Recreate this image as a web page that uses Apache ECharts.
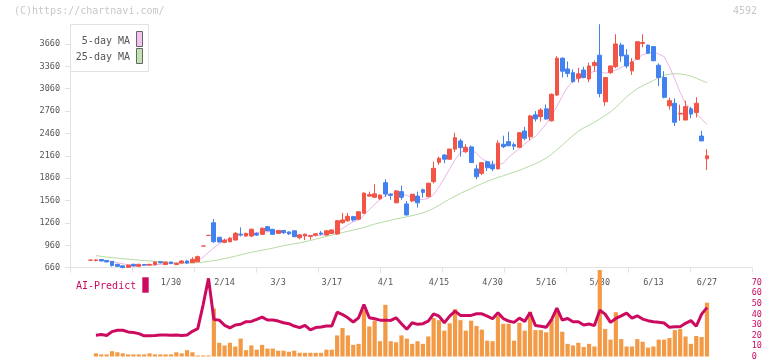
<!DOCTYPE html>
<html><head><meta charset="utf-8">
<script src="https://cdn.jsdelivr.net/npm/echarts@6/dist/echarts.min.js"></script>
<style>html,body{margin:0;padding:0;background:#fff}#c{width:772px;height:361px}</style>
</head><body><div id="c"></div>
<script>
// ---- data ----
const dates = ['1/8','1/9','1/10','1/14','1/15','1/16','1/17','1/20','1/21','1/22','1/23','1/24','1/27','1/28','1/29','1/30','1/31','2/3','2/4','2/5','2/6','2/7','2/10','2/12','2/13','2/14','2/17','2/18','2/19','2/20','2/21','2/25','2/26','2/27','2/28','3/3','3/4','3/5','3/6','3/7','3/10','3/11','3/12','3/13','3/14','3/17','3/18','3/19','3/21','3/24','3/25','3/26','3/27','3/28','3/31','4/1','4/2','4/3','4/4','4/7','4/8','4/9','4/10','4/11','4/14','4/15','4/16','4/17','4/18','4/21','4/22','4/23','4/24','4/25','4/28','4/30','5/1','5/2','5/7','5/8','5/9','5/12','5/13','5/14','5/15','5/16','5/19','5/20','5/21','5/22','5/23','5/26','5/27','5/28','5/29','5/30','6/2','6/3','6/4','6/5','6/6','6/9','6/10','6/11','6/12','6/13','6/16','6/17','6/18','6/19','6/20','6/23','6/24','6/25','6/26','6/27'];
const opens = [760,758,770,757,745,705,685,665,705,678,703,695,698,740,702,735,702,722,750,728,740,950,1093,1263,1068,1000,1008,1031,1110,1085,1085,1118,1107,1210,1175,1120,1160,1140,1155,1062,1085,1080,1095,1125,1098,1120,1112,1263,1290,1345,1310,1390,1620,1605,1585,1800,1645,1530,1680,1515,1555,1620,1705,1612,1813,2073,2170,2115,2250,2360,2215,2280,1985,1925,2080,2040,1985,2315,2350,2310,2275,2493,2415,2710,2685,2790,2630,2975,3470,3325,3275,3200,3310,3190,3370,3510,2885,3275,3355,3645,3510,3300,3455,3665,3645,3625,3375,3210,2830,2865,2720,2640,2790,2740,2425,2120];
const closes = [762,762,750,738,690,678,662,695,682,705,695,705,735,725,735,715,718,750,722,773,808,951,1094,1008,1005,1030,1054,1121,1100,1120,1175,1098,1188,1156,1107,1160,1130,1115,1076,1098,1110,1090,1115,1110,1155,1166,1290,1300,1350,1300,1410,1660,1640,1650,1635,1648,1630,1690,1604,1368,1645,1530,1670,1792,1993,2127,2115,2250,2403,2270,2275,2070,1880,2068,2000,1985,2330,2283,2295,2290,2470,2395,2695,2655,2775,2655,2985,3470,3295,3265,3155,3260,3210,3365,3410,2995,3210,3365,3660,3500,3365,3420,3690,3680,3535,3435,3210,2945,2900,2610,2730,2820,2720,2865,2360,2160];
const lows = [756,745,745,732,675,668,652,660,675,672,688,690,692,718,698,708,695,715,712,725,740,950,1093,995,998,988,1000,1025,1078,1075,1070,1085,1100,1150,1100,1112,1110,1098,1070,1040,1030,1035,1080,1095,1090,1115,1100,1250,1275,1280,1300,1380,1610,1600,1570,1610,1570,1525,1570,1360,1540,1465,1600,1605,1790,2040,2060,2110,2210,2150,2200,2065,1845,1900,1955,1955,1980,2265,2290,2240,2270,2370,2370,2620,2620,2640,2620,2960,3210,3215,3140,3145,3200,3150,3290,2945,2830,3260,3335,3420,3335,3245,3450,3615,3530,3430,3095,2930,2780,2560,2630,2640,2665,2675,2360,1970];
const highs = [766,775,775,760,748,712,690,702,715,715,708,712,748,745,742,740,728,760,765,800,822,951,1094,1313,1070,1050,1070,1140,1200,1130,1185,1135,1200,1212,1180,1165,1165,1145,1160,1110,1115,1100,1125,1150,1160,1172,1300,1395,1395,1355,1420,1670,1680,1780,1640,1845,1660,1700,1760,1555,1650,1680,1720,1800,2080,2150,2185,2255,2470,2390,2315,2300,2040,2075,2095,2095,2370,2430,2485,2340,2480,2550,2710,2760,2800,2850,2995,3495,3480,3425,3320,3340,3355,3410,3440,3925,3215,3370,3790,3675,3590,3470,3700,3790,3650,3630,3400,3295,2940,2930,2845,2900,2815,2945,2495,2250];
const ma5 = [null,765,760,752,740,726,712,700,693,690,690,692,698,705,712,718,722,728,732,740,755,800,865,928,980,1025,1055,1075,1095,1110,1125,1132,1138,1142,1145,1140,1135,1128,1118,1105,1092,1088,1090,1097,1108,1122,1150,1185,1235,1275,1300,1365,1440,1510,1575,1625,1650,1662,1650,1630,1600,1578,1575,1590,1640,1745,1860,1985,2110,2200,2245,2245,2195,2120,2080,2055,2040,2060,2140,2200,2255,2320,2375,2420,2500,2590,2700,2820,2960,3080,3160,3200,3240,3265,3295,3290,3268,3285,3310,3345,3378,3420,3465,3515,3540,3550,3525,3490,3355,3190,3010,2860,2790,2730,2650,2585];
const ma25 = [null,822,812,803,795,788,781,775,769,762,756,750,745,740,735,731,727,724,722,723,727,735,745,755,767,782,798,815,832,850,866,881,895,908,922,940,955,968,980,993,1008,1025,1043,1062,1080,1098,1115,1132,1148,1165,1182,1200,1222,1245,1262,1280,1297,1313,1328,1343,1358,1375,1395,1422,1455,1495,1540,1580,1620,1655,1690,1722,1755,1787,1818,1845,1870,1893,1916,1940,1966,1995,2025,2055,2090,2130,2180,2240,2305,2370,2430,2490,2535,2570,2610,2655,2700,2750,2810,2880,2950,3010,3060,3100,3135,3170,3205,3240,3255,3260,3258,3248,3228,3200,3170,3140];
const volume = [null,3,2,2,5,4,3,2,2,2,2,3,2,2,2,2,4,3,6,4,1,1,1,45.5,13,10.5,13,9.5,17,6,10.5,6.5,11,7.5,7.5,5.5,5.5,4.5,5.5,3.5,3.5,3.5,3.5,3.5,6.5,6.5,20,27,20,11,12,44,28.5,34,14.5,49,14.5,13.5,20,17,12,14.5,12,19,36.5,34.5,24.5,31.5,45,34.5,24.5,34,29,25.5,15,14.5,38.5,31,31,15,32,24.5,42.5,25,25,23,35,45.5,23.5,12,10.5,13,9,12,9.5,82,26,16,42,16.5,9.5,9.5,16.5,14,8.5,9.5,16,16,17.5,25,26,19,12,19.5,18.5,51];
const aiPredict = [null,20.2,20.8,19.9,23.6,24.9,24.9,23.3,22.7,21.7,19.6,19.6,19.9,20.5,20.5,20.2,20.5,19.9,20.5,23.9,26.4,49.1,74.1,35.2,34.5,29.6,27.1,29.9,30.6,33.0,33.3,35.2,37.4,34.6,34.6,33.6,32.0,31.1,28.9,27.4,29.6,25.2,27.4,28.0,28.9,28.9,42.0,39.8,36.7,32.7,36.7,49.2,36.7,35.8,34.5,34.5,34.2,36.7,31.1,25.8,32.0,30.5,31.1,33.6,40.5,38.3,32.0,38.3,43.0,39.0,39.0,39.0,40.5,40.5,38.3,35.8,41.4,36.0,33.6,32.4,36.4,33.3,41.7,29.3,28.7,27.7,34.9,45.8,34.6,36.1,33.0,33.0,29.9,30.8,29.3,43.9,40.2,32.4,36.1,38.6,41.1,36.4,38.6,35.5,34.0,33.0,32.4,31.8,27.7,28.3,28.3,31.5,34.0,28.7,40.2,46.4];
const priceAxis = {min: 660, max: 3660, step: 300, plotMax: 3960};
const aiAxis = {min: 0, max: 70, step: 10};
const firstLabelIndex = 15, labelEvery = 10;
const legendNames = ['5-day MA', '25-day MA'];

// ---- chart ----
const FONT = 'DejaVu Sans Mono';
const RED = '#f25545', BLUE = '#4281f0', MAG = '#cc0a60', ORANGE = '#f29a46';
const AX = '#e2e2e2';
const candle = opens.map((o, i) => [o, closes[i], lows[i], highs[i]]);
const plotL = 87.9, plotW = 116 * 5.36;

const chart = echarts.init(document.getElementById('c'), null, {renderer: 'canvas'});
chart.setOption({
  animation: false,
  backgroundColor: '#fff',
  grid: [
    {left: 70, top: 44, width: 682, height: 223.7},
    {left: plotL, top: 21.6, width: plotW, height: 246.1},
    {left: plotL, top: 282.7, width: plotW, height: 75}
  ],
  xAxis: [
    {type: 'value', gridIndex: 0, min: 0, max: 11, interval: 1,
      axisLine: {show: true, lineStyle: {color: AX}}, axisTick: {show: true, length: 5, lineStyle: {color: AX}},
      axisLabel: {show: false}, splitLine: {show: false}},
    {type: 'category', gridIndex: 1, data: dates, boundaryGap: true,
      axisLine: {show: false}, axisTick: {show: false}, splitLine: {show: false},
      axisLabel: {interval: (i) => i >= firstLabelIndex && (i - firstLabelIndex) % labelEvery === 0,
        color: '#555', fontFamily: FONT, fontSize: 8.5, margin: 11}},
    {type: 'category', gridIndex: 2, data: dates, boundaryGap: true, show: false}
  ],
  yAxis: [
    {type: 'value', gridIndex: 0, min: priceAxis.min, max: priceAxis.max, interval: priceAxis.step,
      axisLine: {show: true, lineStyle: {color: AX}}, axisTick: {show: true, length: 5, lineStyle: {color: AX}},
      axisLabel: {color: '#555', fontFamily: FONT, fontSize: 8.5, margin: 10, formatter: (v) => String(v)}, splitLine: {show: false}},
    {type: 'value', gridIndex: 1, min: priceAxis.min, max: priceAxis.plotMax, show: false, splitLine: {show: false}},
    {type: 'value', gridIndex: 2, min: aiAxis.min, max: aiAxis.max, interval: aiAxis.step, position: 'right', offset: 40,
      axisLine: {show: false}, axisTick: {show: false}, splitLine: {show: false},
      axisLabel: {color: MAG, fontFamily: FONT, fontSize: 8.5, margin: 2, formatter: (v) => String(v)}}
  ],
  series: [
    {name: legendNames[1], type: 'line', xAxisIndex: 1, yAxisIndex: 1, data: ma25, symbol: 'none',
      lineStyle: {color: '#b5dca5', width: 1}, z: 2},
    {name: legendNames[0], type: 'line', xAxisIndex: 1, yAxisIndex: 1, data: ma5, symbol: 'none',
      lineStyle: {color: '#ebb5eb', width: 1}, z: 2},
    {type: 'candlestick', xAxisIndex: 1, yAxisIndex: 1, data: candle, barWidth: 4.3,
      itemStyle: {color: RED, color0: BLUE, borderColor: RED, borderColor0: BLUE, borderWidth: 1}, z: 3},
    {type: 'bar', xAxisIndex: 2, yAxisIndex: 2, data: volume, barWidth: 4.2, clip: false,
      itemStyle: {color: ORANGE}, z: 2},
    {type: 'line', xAxisIndex: 2, yAxisIndex: 2, data: aiPredict, symbol: 'none', clip: false,
      lineStyle: {color: MAG, width: 3}, z: 3}
  ],
  graphic: [
    {type: 'text', left: 14, top: 6, style: {text: '(C)https://chartnavi.com/', fill: '#c8c8c8', font: '10px "DejaVu Sans Mono"'}},
    {type: 'text', right: 15, top: 6, style: {text: '4592', fill: '#c8c8c8', font: '10px "DejaVu Sans Mono"'}},
    {type: 'group', z: 100, children: [
      {type: 'rect', shape: {x: 70.5, y: 24.5, width: 78, height: 47}, style: {fill: '#fff', stroke: '#e2e2e2', lineWidth: 1}},
      {type: 'text', x: 130, y: 41, style: {text: legendNames[0], fill: '#555', font: '10px "DejaVu Sans Mono"', align: 'right', verticalAlign: 'middle'}},
      {type: 'text', x: 130, y: 57, style: {text: legendNames[1], fill: '#555', font: '10px "DejaVu Sans Mono"', align: 'right', verticalAlign: 'middle'}},
      {type: 'rect', shape: {x: 136.5, y: 31.5, width: 6, height: 15}, style: {fill: '#f2c2f0', stroke: '#666', lineWidth: 1}},
      {type: 'rect', shape: {x: 136.5, y: 48.5, width: 6, height: 15}, style: {fill: '#c2e2b0', stroke: '#666', lineWidth: 1}}
    ]},
    {type: 'text', x: 76, y: 286, z: 100, style: {text: 'AI-Predict', fill: MAG, font: '10px "DejaVu Sans Mono"', verticalAlign: 'middle'}},
    {type: 'rect', z: 100, shape: {x: 142.3, y: 277.3, width: 6.4, height: 15.4}, style: {fill: MAG}}
  ]
});
</script>
</body></html>
